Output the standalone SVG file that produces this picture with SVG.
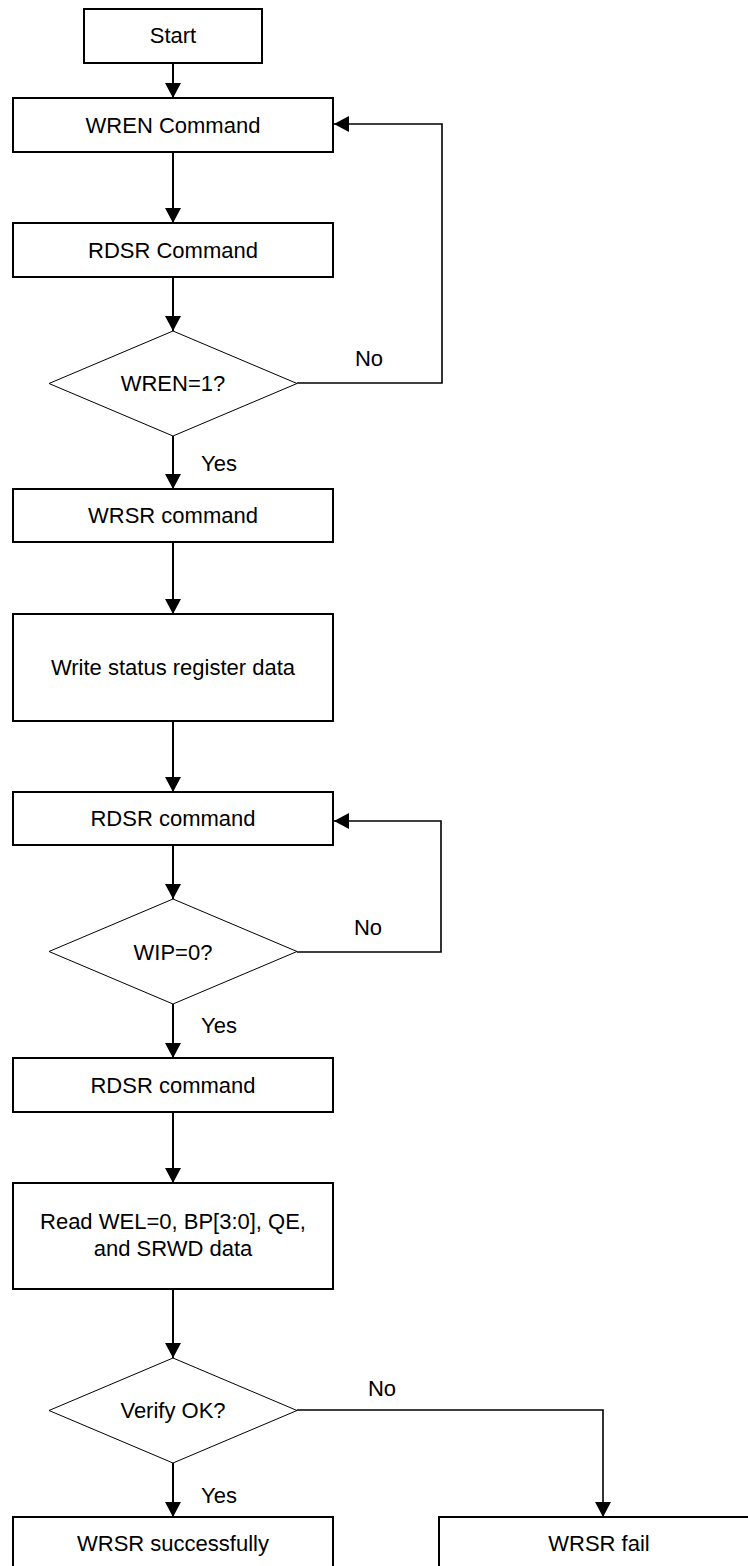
<svg xmlns="http://www.w3.org/2000/svg" width="748" height="1566" viewBox="0 0 748 1566">
<style>
  .box{fill:#fff;stroke:#000;stroke-width:2}
  .dia{fill:#fff;stroke:#000;stroke-width:1}
  .t{font-family:"Liberation Sans",Arial,sans-serif;font-size:22px;fill:#000;text-anchor:middle}
  .lbl{font-family:"Liberation Sans",Arial,sans-serif;font-size:22px;fill:#000;text-anchor:middle}
  .c{fill:none;stroke:#000;stroke-width:2}
  .c2{fill:none;stroke:#000;stroke-width:1.6}
</style>
<defs>
  <marker id="ah" markerUnits="userSpaceOnUse" markerWidth="15" markerHeight="16" refX="15" refY="8" orient="auto">
    <path d="M0,0 L15,8 L0,16 z" fill="#000"/>
  </marker>
</defs>
<rect width="748" height="1566" fill="#fff"/>
<g id="connectors">
  <line class="c" x1="173" y1="63" x2="173" y2="98" marker-end="url(#ah)"/>
  <line class="c" x1="173" y1="152" x2="173" y2="223" marker-end="url(#ah)"/>
  <line class="c" x1="173" y1="277" x2="173" y2="331" marker-end="url(#ah)"/>
  <line class="c" x1="173" y1="436" x2="173" y2="489" marker-end="url(#ah)"/>
  <line class="c" x1="173" y1="542" x2="173" y2="614" marker-end="url(#ah)"/>
  <line class="c" x1="173" y1="721" x2="173" y2="792" marker-end="url(#ah)"/>
  <line class="c" x1="173" y1="845" x2="173" y2="899" marker-end="url(#ah)"/>
  <line class="c" x1="173" y1="1004" x2="173" y2="1058" marker-end="url(#ah)"/>
  <line class="c" x1="173" y1="1112" x2="173" y2="1183" marker-end="url(#ah)"/>
  <line class="c" x1="173" y1="1289" x2="173" y2="1358" marker-end="url(#ah)"/>
  <line class="c" x1="173" y1="1463" x2="173" y2="1517" marker-end="url(#ah)"/>
  <polyline class="c2" points="297,383 442,383 442,124 334,124" marker-end="url(#ah)"/>
  <polyline class="c2" points="297,952 441,952 441,821 334,821" marker-end="url(#ah)"/>
  <polyline class="c2" points="297,1410 603,1410 603,1517" marker-end="url(#ah)"/>
  <text class="lbl" x="369" y="366">No</text>
  <text class="lbl" x="219" y="471">Yes</text>
  <text class="lbl" x="368" y="935">No</text>
  <text class="lbl" x="219" y="1033">Yes</text>
  <text class="lbl" x="382" y="1396">No</text>
  <text class="lbl" x="219" y="1503">Yes</text>
</g>
<g id="start"><rect class="box" x="84" y="9" width="178" height="54"/><text class="t" x="173" y="43">Start</text></g>
<g id="wren"><rect class="box" x="13" y="98" width="320" height="54"/><text class="t" x="173" y="133">WREN Command</text></g>
<g id="rdsr1"><rect class="box" x="13" y="223" width="320" height="54"/><text class="t" x="173" y="258">RDSR Command</text></g>
<g id="dec-wren"><polygon class="dia" points="173,331 297,383.5 173,436 49,383.5"/><text class="t" x="173" y="391">WREN=1?</text></g>
<g id="wrsr"><rect class="box" x="13" y="489" width="320" height="53"/><text class="t" x="173" y="523">WRSR command</text></g>
<g id="write"><rect class="box" x="13" y="614" width="320" height="107"/><text class="t" x="173" y="675">Write status register data</text></g>
<g id="rdsr2"><rect class="box" x="13" y="792" width="320" height="53"/><text class="t" x="173" y="826">RDSR command</text></g>
<g id="dec-wip"><polygon class="dia" points="173,899 297,951.5 173,1004 49,951.5"/><text class="t" x="173" y="960">WIP=0?</text></g>
<g id="rdsr3"><rect class="box" x="13" y="1058" width="320" height="54"/><text class="t" x="173" y="1093">RDSR command</text></g>
<g id="read"><rect class="box" x="13" y="1183" width="320" height="106"/><text class="t" x="173" y="1229">Read WEL=0, BP[3:0], QE,</text><text class="t" x="173" y="1256">and SRWD data</text></g>
<g id="dec-verify"><polygon class="dia" points="173,1358 297,1410.5 173,1463 49,1410.5"/><text class="t" x="173" y="1418">Verify OK?</text></g>
<g id="success"><rect class="box" x="13" y="1517" width="320" height="70"/><text class="t" x="173" y="1551">WRSR successfully</text></g>
<g id="fail"><rect class="box" x="439" y="1517" width="340" height="70"/><text class="t" x="599" y="1551">WRSR fail</text></g>
</svg>
